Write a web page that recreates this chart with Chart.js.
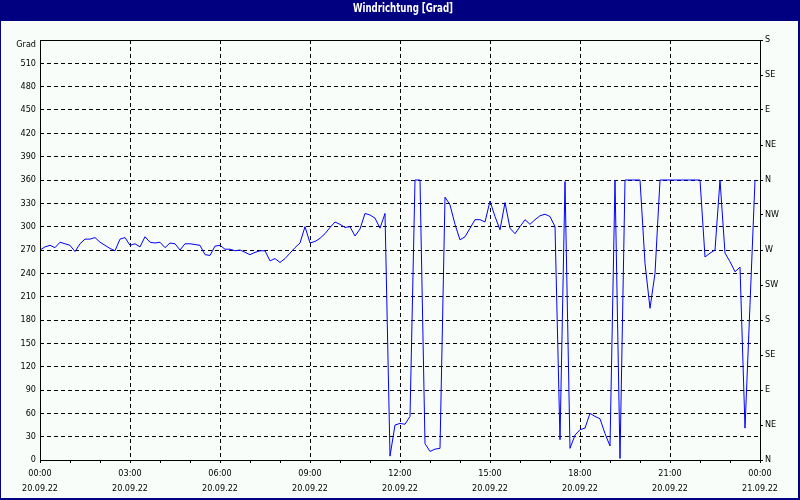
<!DOCTYPE html>
<html><head><meta charset="utf-8">
<script src="https://cdn.jsdelivr.net/npm/chart.js@4/dist/chart.umd.min.js"></script>
<style>html,body{margin:0;padding:0;background:#f9fdf9;}canvas{display:block;}</style>
</head><body>
<canvas id="c" width="800" height="500"></canvas>
<script>
const titleText = 'Windrichtung [Grad]';
const yAxisTitle = 'Grad';
const dayLabels = ['20.09.22', '21.09.22'];
// right axis compass labels for 0,45,...,540
const compassLabels = ['N','NE','E','SE','S','SW','W','NW','N','NE','E','SE','S'];
const stepMinutes = 10;
// wind direction [deg], one value every 10 minutes from 00:00 to 23:50
const direction = [
  270,274,276,273,280,278,276,268,278,284,
  284,286,280,276,272,269,284,286,276,278,
  274,287,280,279,280,273,279,278,270,278,
  278,277,276,264,263,275,276,271,271,269,
  270,267,264,267,269,269,256,259,254,259,
  266,273,279,300,279,281,285,291,299,306,
  303,299,300,288,297,317,315,311,298,317,
  5,45,47,46,56,360,360,21,11,14,
  15,338,328,303,283,287,298,309,309,306,
  333,313,296,331,298,291,300,309,303,309,
  314,316,313,300,26,358,15,32,39,41,
  60,56,53,34,18,360,2,360,360,360,
  360,253,195,240,360,360,360,360,360,360,
  360,360,360,261,266,270,360,266,255,242,
  248,41,200,360
];
const minutes = direction.map((_, i) => i * stepMinutes);

const FONT = "'DejaVu Sans Condensed', 'DejaVu Sans', sans-serif";
const NAVY = '#000080';
const BG = '#f9fdf9';

const framePlugin = {
  id: 'frame',
  beforeDraw(chart) {
    const ctx = chart.ctx;
    ctx.save();
    ctx.fillStyle = BG;
    ctx.fillRect(0, 0, chart.width, chart.height);
    ctx.restore();
  },
  afterDraw(chart) {
    const ctx = chart.ctx;
    const a = chart.chartArea;
    ctx.save();
    // plot box
    ctx.strokeStyle = '#000';
    ctx.lineWidth = 1;
    ctx.setLineDash([]);
    ctx.strokeRect(Math.round(a.left) + 0.5, Math.round(a.top) + 0.5,
                   Math.round(a.right - a.left), Math.round(a.bottom - a.top));
    // window frame
    ctx.fillStyle = NAVY;
    ctx.fillRect(0, 0, chart.width, 21);
    ctx.fillRect(0, 0, 1, chart.height);
    ctx.fillRect(chart.width - 2, 0, 2, chart.height);
    ctx.fillRect(0, chart.height - 2, chart.width, 2);
    // title
    ctx.font = 'bold 12px ' + FONT;
    ctx.fillStyle = '#ffffff';
    ctx.textAlign = 'center';
    ctx.textBaseline = 'middle';
    const w = ctx.measureText(titleText).width;
    const target = 100;
    ctx.translate(403, 9);
    ctx.scale(target / w, 1);
    ctx.fillText(titleText, 0, 0);
    ctx.restore();
    // y axis title
    ctx.save();
    ctx.font = '9px ' + FONT;
    ctx.fillStyle = '#000';
    ctx.textAlign = 'right';
    ctx.textBaseline = 'middle';
    ctx.fillText(yAxisTitle, 36, 45);
    ctx.restore();
  }
};

new Chart(document.getElementById('c'), {
  type: 'line',
  data: {
    datasets: [{
      data: direction.map((v, i) => ({ x: minutes[i], y: v })),
      borderColor: '#0000ff',
      borderWidth: 1,
      pointRadius: 0,
      tension: 0,
      fill: false
    }]
  },
  options: {
    responsive: false,
    animation: false,
    devicePixelRatio: 1,
    layout: { padding: { top: 40, left: 0, right: 0, bottom: 0 } },
    plugins: { legend: { display: false }, title: { display: false }, tooltip: { enabled: false } },
    scales: {
      x: {
        type: 'linear',
        min: 0, max: 1440,
        afterFit(s) { s.height = 40; },
        border: { display: false, dash: [4, 3] },
        grid: {
          color: c => (c.tick && c.tick.value % 180 === 0 && c.tick.value > 0 && c.tick.value < 1440) ? '#000' : 'rgba(0,0,0,0)',
          tickColor: '#000',
          tickLength: 3,
          lineWidth: 1
        },
        ticks: {
          stepSize: 60,
          autoSkip: false,
          maxRotation: 0,
          padding: 3,
          color: '#000',
          font: { family: FONT, size: 9, lineHeight: 1.7 },
          callback(v) {
            if (v % 180 !== 0) return '';
            const hh = String((v / 60) % 24).padStart(2, '0') + ':00';
            return [hh, v < 1440 ? dayLabels[0] : dayLabels[1]];
          }
        }
      },
      y: {
        type: 'linear',
        position: 'left',
        min: 0, max: 540,
        afterFit(s) { s.width = 40; },
        border: { display: false, dash: [4, 3] },
        grid: {
          color: c => (c.tick && c.tick.value > 0 && c.tick.value < 540) ? '#000' : 'rgba(0,0,0,0)',
          drawTicks: false,
          lineWidth: 1
        },
        ticks: {
          stepSize: 30,
          padding: 4,
          color: '#000',
          font: { family: FONT, size: 9 },
          callback(v) { return v >= 540 ? '' : String(v); }
        }
      },
      y2: {
        type: 'linear',
        position: 'right',
        min: 0, max: 540,
        afterFit(s) { s.width = 40; },
        border: { display: false },
        grid: {
          drawOnChartArea: false,
          tickColor: '#000',
          tickLength: 3
        },
        ticks: {
          stepSize: 45,
          padding: 2,
          color: '#000',
          font: { family: FONT, size: 9 },
          callback(v) { return compassLabels[Math.round(v / 45)]; }
        }
      }
    }
  },
  plugins: [framePlugin]
});
</script>
</body></html>
